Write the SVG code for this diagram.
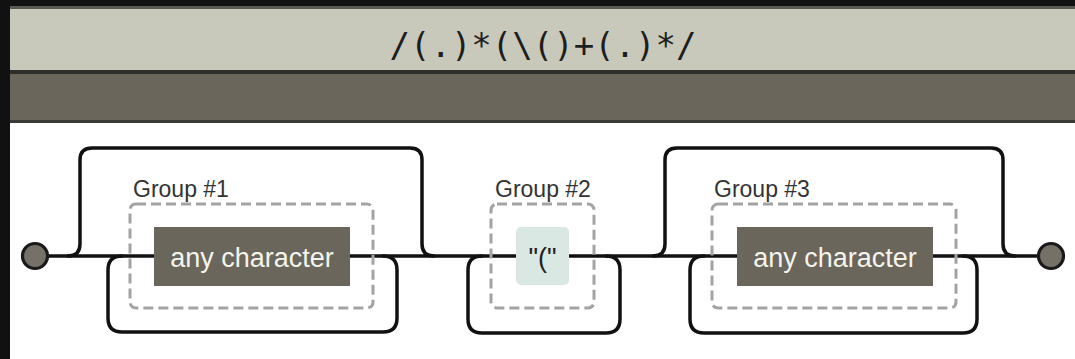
<svg xmlns="http://www.w3.org/2000/svg" width="1075" height="359" viewBox="0 0 1075 359">
  <defs>
    <style>
      .rail { fill: none; stroke: #111; stroke-width: 3.5; stroke-linecap: round; stroke-linejoin: round; }
      .grp { fill: none; stroke: #a3a3a3; stroke-width: 3; stroke-dasharray: 10 5; }
      .lbl { font-family: "Liberation Sans", Arial, sans-serif; font-size: 23px; fill: #333; }
      .any { fill: #6b665c; }
      .anytxt { font-family: "Liberation Sans", Arial, sans-serif; font-size: 27px; fill: #f4f4ec; text-anchor: middle; }
      .lit { fill: #dae8e4; }
      .littxt { font-family: "Liberation Sans", Arial, sans-serif; font-size: 27px; fill: #222; text-anchor: middle; }
      .term { fill: #767168; stroke: #1a1a1a; stroke-width: 3.2; }
    </style>
  </defs>

  <!-- background / header -->
  <rect x="0" y="0" width="1075" height="359" fill="#ffffff"/>
  <rect x="0" y="0" width="1075" height="6" fill="#111"/>
  <rect x="0" y="6" width="1075" height="3" fill="#5a5a52"/>
  <rect x="0" y="9" width="1075" height="61" fill="#c9c9bb"/>
  <rect x="0" y="70" width="1075" height="4" fill="#2e2e2a"/>
  <rect x="0" y="74" width="1075" height="46" fill="#6b665b"/>
  <rect x="0" y="120" width="1075" height="3" fill="#3a3a36"/>
  <rect x="0" y="0" width="10" height="359" fill="#111"/>
  <text x="543" y="57" font-family="'DejaVu Sans Mono', 'Liberation Mono', monospace" font-size="34" fill="#1e1e1e" text-anchor="middle">/(.)*(\()+(.)*/</text>

  <!-- connectors -->
  <g id="connectors">
    <path class="rail" d="M48,256 H1038"/>
    <!-- group 1 skip and loop -->
    <path class="rail" d="M68,256 q12,0 12,-12 V160 q0,-12 12,-12 H410 q12,0 12,12 V244 q0,12 12,12"/>
    <path class="rail" d="M122,256 q-14,0 -14,14 V318 q0,14 14,14 H383 q14,0 14,-14 V270 q0,-14 -14,-14"/>
    <!-- group 2 loop -->
    <path class="rail" d="M482,256 q-14,0 -14,14 V319 q0,14 14,14 H606 q14,0 14,-14 V270 q0,-14 -14,-14"/>
    <!-- group 3 skip and loop -->
    <path class="rail" d="M653,256 q12,0 12,-12 V160 q0,-12 12,-12 H991 q12,0 12,12 V244 q0,12 12,12"/>
    <path class="rail" d="M704,256 q-14,0 -14,14 V319 q0,14 14,14 H963 q14,0 14,-14 V270 q0,-14 -14,-14"/>
  </g>

  <g id="start">
    <circle class="term" cx="35" cy="256" r="12.5"/>
  </g>
  <g id="end">
    <circle class="term" cx="1051" cy="256" r="12.5"/>
  </g>

  <g id="group1">
    <rect class="grp" x="130" y="204" width="243" height="104" rx="6"/>
    <text class="lbl" x="133" y="197">Group #1</text>
    <rect class="any" x="154" y="227" width="196" height="59"/>
    <text class="anytxt" x="252" y="267">any character</text>
  </g>

  <g id="group2">
    <rect class="grp" x="491" y="204" width="103" height="104" rx="6"/>
    <text class="lbl" x="495" y="197">Group #2</text>
    <rect class="lit" x="516" y="227" width="53" height="58" rx="5"/>
    <text class="littxt" x="542.5" y="267">"("</text>
  </g>

  <g id="group3">
    <rect class="grp" x="712" y="204" width="244" height="104" rx="6"/>
    <text class="lbl" x="714" y="197">Group #3</text>
    <rect class="any" x="737" y="227" width="196" height="59"/>
    <text class="anytxt" x="835" y="267">any character</text>
  </g>
</svg>
